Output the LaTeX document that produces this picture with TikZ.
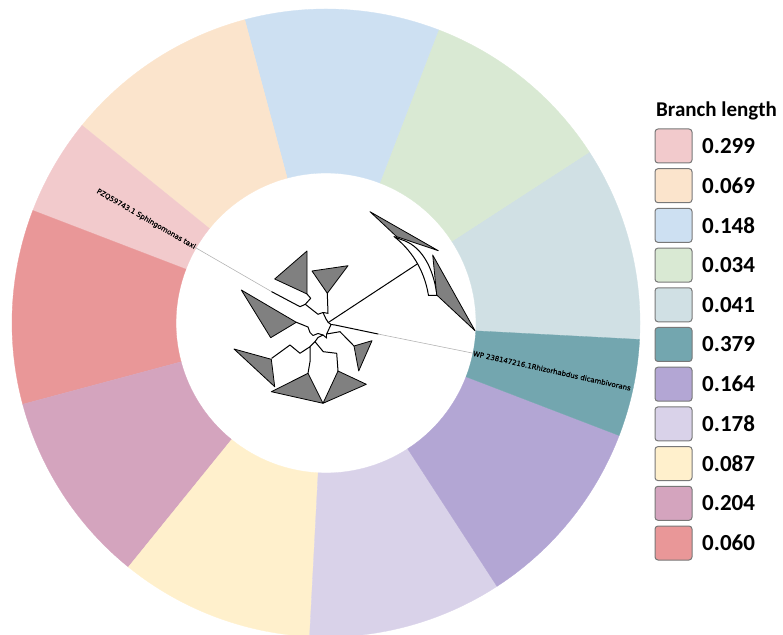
\documentclass[tikz,border=0pt]{standalone}
\usepackage{fontspec}
\newfontfamily\legendfont{Carlito}
\newfontfamily\leaffont[FakeBold=0.6]{DejaVu Sans}
% ring / legend colours, one per branch-length class
\definecolor{c299}{HTML}{F2CACC}
\definecolor{c069}{HTML}{FBE4CC}
\definecolor{c148}{HTML}{CDE0F2}
\definecolor{c034}{HTML}{D9E9D3}
\definecolor{c041}{HTML}{D0E0E4}
\definecolor{c379}{HTML}{73A6AF}
\definecolor{c164}{HTML}{B3A6D4}
\definecolor{c178}{HTML}{D9D2E9}
\definecolor{c087}{HTML}{FFF0CC}
\definecolor{c204}{HTML}{D4A4BE}
\definecolor{c060}{HTML}{E99798}
\definecolor{cladegray}{HTML}{808080}
\definecolor{boxedge}{HTML}{787878}
\definecolor{leafgrey}{HTML}{B4B4B4}
\begin{document}
\begin{tikzpicture}[x=1pt,y=1pt,
  treeline/.style={black, line width=1pt, line join=round, line cap=round},
  leafline/.style={leafgrey, line width=0.6pt},
  clade/.style={fill=cladegray, draw=black, line width=0.8pt, line join=round},
  legbox/.style={draw=boxedge, line width=1pt, rounded corners=3pt,
    minimum width=37pt, minimum height=34pt, inner sep=0pt},
  legval/.style={font=\legendfont\bfseries\fontsize{23}{23}\selectfont,
    anchor=west, inner sep=0pt},
  leaflabel/.style={font=\leaffont\fontsize{7}{7}\selectfont, inner sep=0pt}
]
\useasboundingbox (0,0) rectangle (783,634);
\clip (0,0) rectangle (783,634);

% ---------------- coloured ring ----------------
\begin{scope}[shift={(326,311)}]
  \foreach \col/\a/\b in {c041/-3/33, c034/33/69, c148/69/105, c069/105/141,
      c299/141/159, c060/159/195, c204/195/231, c087/231/267,
      c178/267/303, c164/303/339, c379/339/357}{
    \fill[\col, draw=\col, line width=0.3pt] (\a:150) -- (\a:314)
      arc[start angle=\a, end angle=\b, radius=314] -- (\b:150)
      arc[start angle=\b, end angle=\a, radius=150] -- cycle;
  }
  % leaf labels sitting on the inner rim
  \node[leaflabel, anchor=east, rotate=-30] (sphlabel) at (150:151)
    {PZQ59743.1 Sphingomonas taxi};
  \node[leaflabel, anchor=west, rotate=-12.5] (wplabel) at (-11.6:150)
    {WP 238147216.1Rhizorhabdus dicambivorans};
\end{scope}

% ---------------- tree (pixel coordinates, y downwards) ----------------
\begin{scope}[shift={(0,634)}, yscale=-1]
  \coordinate (sphjoin) at (271.7,291.7);
  \coordinate (wpjoin) at (378,334);
  % grey leaf stems towards the labels
  \draw[leafline] (sphlabel.east) -- (sphjoin);
  \draw[leafline] (wpjoin) -- (wplabel.west);

  % branches
  \draw[treeline] (sphjoin) -- (300,306.7) -- (305.3,304.3) -- (310.7,298.3) -- (307,294);
  \draw[treeline] (305.3,304.3) -- (318,314.3) -- (323,312.5) -- (328,313.3) -- (327.3,293.3);
  \draw[treeline] (323,312.5) -- (326,319) -- (328.3,322.5);
  \draw[treeline] (328.3,322.5) -- (418,263.5);
  \draw[treeline] (328.3,322.5) -- (331,324.5) -- (335,325) -- (wpjoin);
  \draw[treeline] (331,324.5) -- (328.5,330) -- (326.7,334) -- (340,331.7) -- (354,346);
  \draw[treeline] (296.3,322.3) -- (308,327) -- (310,332.5) -- (313,335.5)
    -- (318,333.5) -- (323,335) -- (326.7,338);
  \draw[treeline] (326.7,334) -- (326.7,338);
  \draw[treeline] (271.7,358.3) -- (290,345) -- (300,353.3) -- (310,346.7)
    -- (310,361.7) -- (308,373.3);
  \draw[treeline] (310,346.7) -- (315,341.7) -- (323.3,351.7) -- (336.7,353.3) -- (338,371);
  \draw[treeline] (315,341.7) -- (318,337.5) -- (323,335);

  % curved node of the long upper-right clade
  \draw[treeline, fill=white] (394,236.5) .. controls (410,249) and (424,268) .. (428.5,295.5)
    -- (437,295.5) .. controls (433,265) and (420,245) .. (401,239.5) -- cycle;

  % collapsed clades
  \draw[clade] (274.7,279) -- (307,251) -- (307,294) -- cycle;
  \draw[clade] (312,271) -- (348,265.7) -- (327.3,293.3) -- cycle;
  \draw[clade] (241.3,290) -- (296.3,322.3) -- (270.7,337.7) -- cycle;
  \draw[clade] (234,349) -- (271.3,359.3) -- (274.7,386.7) -- cycle;
  \draw[clade] (271.3,391.7) -- (308,373.3) -- (323,403.3) -- cycle;
  \draw[clade] (323,403.3) -- (338,371) -- (366.3,384.3) -- cycle;
  \draw[clade] (354,346) -- (372,340.7) -- (358.7,371) -- cycle;
  \draw[clade] (370,211.7) -- (438.3,250.7) -- (396.7,236.7) -- cycle;
  \draw[clade] (432.7,255) -- (475,330.7) -- (436.7,295) -- cycle;
\end{scope}

% ---------------- legend ----------------
\node[anchor=base west, inner sep=0pt,
  font=\legendfont\bfseries\fontsize{21}{21}\selectfont] (legtitle) at (656,517) {Branch length};
\foreach \col/\val [count=\i from 0] in {c299/0.299, c069/0.069, c148/0.148, c034/0.034,
    c041/0.041, c379/0.379, c164/0.164, c178/0.178, c087/0.087, c204/0.204, c060/0.060}{
  \node[legbox, fill=\col] (box\i) at (673.5,{634-146-39.7*\i}) {};
  \node[legval] (val\i) at (702,{634-146-39.7*\i}) {\val};
}
\end{tikzpicture}
\end{document}
